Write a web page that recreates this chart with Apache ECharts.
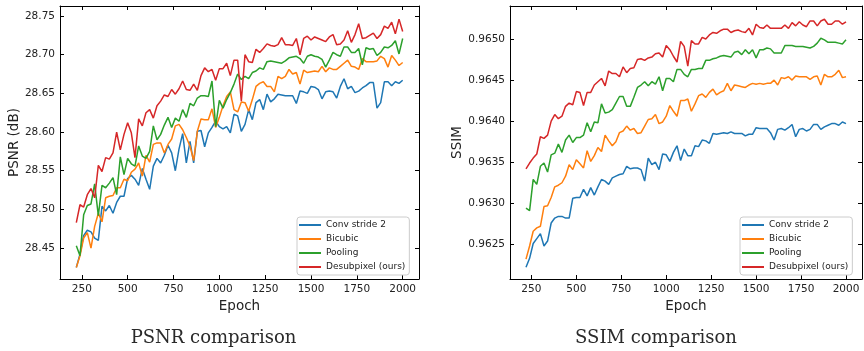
<!DOCTYPE html>
<html>
<head>
<meta charset="utf-8">
<script src="https://cdn.jsdelivr.net/npm/echarts@6/dist/echarts.min.js"></script>
<style>
  html, body { margin: 0; padding: 0; background: #fff; }
  #chart { width: 864px; height: 351px; }
</style>
</head>
<body>
<div id="chart"></div>
<script>
const epochs = [
  220, 240, 260, 280, 300, 320, 340, 360, 380, 400,
  420, 440, 460, 480, 500, 520, 540, 560, 580, 600,
  620, 640, 660, 680, 700, 720, 740, 760, 780, 800,
  820, 840, 860, 880, 900, 920, 940, 960, 980, 1000,
  1020, 1040, 1060, 1080, 1100, 1120, 1140, 1160, 1180, 1200,
  1220, 1240, 1260, 1280, 1300, 1320, 1340, 1360, 1380, 1400,
  1420, 1440, 1460, 1480, 1500, 1520, 1540, 1560, 1580, 1600,
  1620, 1640, 1660, 1680, 1700, 1720, 1740, 1760, 1780, 1800,
  1820, 1840, 1860, 1880, 1900, 1920, 1940, 1960, 1980, 2000
]
const epochTicks = [250, 500, 750, 1000, 1250, 1500, 1750, 2000]
const psnrTicks = [28.45, 28.50, 28.55, 28.60, 28.65, 28.70, 28.75]
const ssimTicks = [0.9625, 0.9630, 0.9635, 0.9640, 0.9645, 0.9650]
const names = ['Conv stride 2', 'Bicubic', 'Pooling', 'Desubpixel (ours)']
const colors = ['#1f77b4', '#ff7f0e', '#2ca02c', '#d62728']

const psnrConv = [
  28.425, 28.442, 28.466, 28.473, 28.471, 28.463, 28.460, 28.504, 28.498, 28.505,
  28.495, 28.509, 28.517, 28.517, 28.540, 28.544, 28.539, 28.531, 28.553, 28.539,
  28.526, 28.556, 28.566, 28.560, 28.570, 28.583, 28.573, 28.550, 28.578, 28.598,
  28.560, 28.588, 28.560, 28.601, 28.602, 28.581, 28.599, 28.606, 28.614, 28.607,
  28.604, 28.607, 28.599, 28.623, 28.621, 28.601, 28.610, 28.629, 28.616, 28.638,
  28.642, 28.629, 28.649, 28.639, 28.643, 28.649, 28.648, 28.647, 28.647, 28.647,
  28.637, 28.653, 28.652, 28.650, 28.659, 28.658, 28.655, 28.643, 28.652, 28.653,
  28.652, 28.644, 28.659, 28.669, 28.656, 28.659, 28.651, 28.653, 28.657, 28.660,
  28.664, 28.664, 28.631, 28.638, 28.665, 28.665, 28.660, 28.665, 28.663, 28.667
]
const psnrBicubic = [
  28.425, 28.440, 28.463, 28.470, 28.450, 28.478, 28.495, 28.484, 28.515, 28.517,
  28.518, 28.528, 28.528, 28.539, 28.537, 28.548, 28.552, 28.560, 28.543, 28.570,
  28.561, 28.584, 28.586, 28.586, 28.573, 28.584, 28.591, 28.608, 28.610, 28.603,
  28.593, 28.582, 28.563, 28.601, 28.617, 28.616, 28.616, 28.630, 28.606, 28.619,
  28.634, 28.646, 28.652, 28.629, 28.626, 28.639, 28.638, 28.627, 28.642, 28.659,
  28.663, 28.665, 28.659, 28.659, 28.652, 28.672, 28.669, 28.672, 28.681, 28.675,
  28.677, 28.662, 28.680, 28.677, 28.678, 28.679, 28.678, 28.685, 28.678, 28.683,
  28.681, 28.681, 28.685, 28.689, 28.693, 28.685, 28.684, 28.681, 28.695, 28.691,
  28.691, 28.691, 28.692, 28.698, 28.695, 28.684, 28.699, 28.693, 28.686, 28.690
]
const psnrPooling = [
  28.453, 28.440, 28.493, 28.505, 28.507, 28.533, 28.492, 28.531, 28.528, 28.534,
  28.541, 28.519, 28.568, 28.545, 28.566, 28.559, 28.556, 28.582, 28.569, 28.566,
  28.575, 28.608, 28.590, 28.597, 28.609, 28.619, 28.606, 28.618, 28.614, 28.629,
  28.619, 28.637, 28.634, 28.644, 28.647, 28.647, 28.646, 28.666, 28.607, 28.641,
  28.631, 28.642, 28.651, 28.662, 28.675, 28.668, 28.672, 28.669, 28.677, 28.679,
  28.683, 28.681, 28.691, 28.692, 28.691, 28.690, 28.689, 28.692, 28.696, 28.697,
  28.698, 28.695, 28.689, 28.698, 28.700, 28.698, 28.697, 28.694, 28.684, 28.693,
  28.703, 28.700, 28.698, 28.710, 28.710, 28.703, 28.703, 28.708, 28.687, 28.709,
  28.707, 28.708, 28.699, 28.703, 28.710, 28.709, 28.712, 28.718, 28.701, 28.721
]
const psnrDesub = [
  28.483, 28.506, 28.503, 28.519, 28.527, 28.515, 28.557, 28.549, 28.567, 28.565,
  28.573, 28.600, 28.577, 28.597, 28.612, 28.599, 28.567, 28.617, 28.608, 28.625,
  28.629, 28.618, 28.634, 28.640, 28.648, 28.646, 28.655, 28.649, 28.656, 28.666,
  28.655, 28.654, 28.662, 28.654, 28.673, 28.683, 28.678, 28.681, 28.667, 28.682,
  28.682, 28.689, 28.673, 28.693, 28.693, 28.640, 28.700, 28.691, 28.690, 28.707,
  28.703, 28.708, 28.714, 28.712, 28.711, 28.713, 28.722, 28.713, 28.713, 28.712,
  28.721, 28.700, 28.721, 28.724, 28.719, 28.723, 28.721, 28.719, 28.717, 28.723,
  28.726, 28.713, 28.714, 28.719, 28.731, 28.716, 28.726, 28.740, 28.721, 28.722,
  28.725, 28.728, 28.721, 28.726, 28.737, 28.734, 28.742, 28.727, 28.746, 28.730
]

const ssimConv = [
  0.96222, 0.96233, 0.96251, 0.96257, 0.96263, 0.96248, 0.96254, 0.96276, 0.96282, 0.96284,
  0.96284, 0.96282, 0.96282, 0.96306, 0.96307, 0.96307, 0.96317, 0.96309, 0.96319, 0.96310,
  0.96320, 0.96329, 0.96327, 0.96323, 0.96331, 0.96333, 0.96335, 0.96336, 0.96345, 0.96342,
  0.96343, 0.96343, 0.96341, 0.96327, 0.96355, 0.96347, 0.96350, 0.96341, 0.96360, 0.96359,
  0.96351, 0.96362, 0.96370, 0.96352, 0.96366, 0.96358, 0.96358, 0.96370, 0.96369, 0.96377,
  0.96376, 0.96373, 0.96385, 0.96384, 0.96385, 0.96386, 0.96385, 0.96387, 0.96385, 0.96385,
  0.96385, 0.96382, 0.96384, 0.96384, 0.96392, 0.96391, 0.96391, 0.96391, 0.96386, 0.96377,
  0.96390, 0.96391, 0.96389, 0.96392, 0.96396, 0.96381, 0.96390, 0.96391, 0.96388, 0.96390,
  0.96396, 0.96396, 0.96390, 0.96393, 0.96395, 0.96397, 0.96397, 0.96395, 0.96399, 0.96397
]
const ssimBicubic = [
  0.96232, 0.96248, 0.96266, 0.96270, 0.96272, 0.96296, 0.96297, 0.96307, 0.96320, 0.96322,
  0.96325, 0.96333, 0.96347, 0.96341, 0.96353, 0.96348, 0.96343, 0.96364, 0.96351, 0.96358,
  0.96368, 0.96363, 0.96383, 0.96376, 0.96370, 0.96375, 0.96386, 0.96388, 0.96394, 0.96389,
  0.96391, 0.96385, 0.96386, 0.96394, 0.96402, 0.96403, 0.96408, 0.96397, 0.96399, 0.96406,
  0.96419, 0.96412, 0.96406, 0.96425, 0.96425, 0.96427, 0.96412, 0.96421, 0.96431, 0.96433,
  0.96429, 0.96435, 0.96439, 0.96432, 0.96435, 0.96437, 0.96446, 0.96437, 0.96444, 0.96443,
  0.96442, 0.96441, 0.96444, 0.96446, 0.96445, 0.96446, 0.96445, 0.96446, 0.96446, 0.96450,
  0.96444, 0.96453, 0.96452, 0.96454, 0.96450, 0.96455, 0.96454, 0.96454, 0.96454, 0.96451,
  0.96454, 0.96455, 0.96444, 0.96457, 0.96454, 0.96454, 0.96457, 0.96462, 0.96453, 0.96454
]
const ssimPooling = [
  0.96294, 0.96291, 0.96329, 0.96323, 0.96345, 0.96349, 0.96338, 0.96359, 0.96361, 0.96372,
  0.96362, 0.96377, 0.96383, 0.96374, 0.96380, 0.96380, 0.96383, 0.96398, 0.96387, 0.96399,
  0.96398, 0.96421, 0.96410, 0.96411, 0.96414, 0.96422, 0.96430, 0.96430, 0.96418, 0.96418,
  0.96429, 0.96441, 0.96444, 0.96448, 0.96443, 0.96448, 0.96445, 0.96454, 0.96437, 0.96452,
  0.96452, 0.96448, 0.96463, 0.96463, 0.96457, 0.96454, 0.96463, 0.96463, 0.96464, 0.96464,
  0.96474, 0.96474, 0.96476, 0.96477, 0.96479, 0.96480, 0.96479, 0.96478, 0.96484, 0.96485,
  0.96481, 0.96487, 0.96482, 0.96487, 0.96477, 0.96487, 0.96487, 0.96489, 0.96488, 0.96483,
  0.96483, 0.96483, 0.96492, 0.96492, 0.96492, 0.96491, 0.96491, 0.96491, 0.96490, 0.96489,
  0.96491, 0.96495, 0.96501, 0.96499, 0.96496, 0.96496, 0.96496, 0.96495, 0.96494, 0.96499
]
const ssimDesub = [
  0.96342, 0.96349, 0.96355, 0.96360, 0.96381, 0.96379, 0.96383, 0.96400, 0.96408, 0.96403,
  0.96406, 0.96418, 0.96422, 0.96420, 0.96436, 0.96435, 0.96419, 0.96435, 0.96435, 0.96444,
  0.96448, 0.96452, 0.96443, 0.96461, 0.96458, 0.96458, 0.96454, 0.96466, 0.96459, 0.96464,
  0.96465, 0.96475, 0.96476, 0.96474, 0.96477, 0.96478, 0.96482, 0.96483, 0.96478, 0.96492,
  0.96487, 0.96479, 0.96472, 0.96497, 0.96491, 0.96467, 0.96498, 0.96494, 0.96494, 0.96502,
  0.96500, 0.96505, 0.96508, 0.96507, 0.96510, 0.96512, 0.96512, 0.96508, 0.96510, 0.96511,
  0.96509, 0.96508, 0.96513, 0.96505, 0.96518, 0.96514, 0.96513, 0.96517, 0.96513, 0.96513,
  0.96513, 0.96513, 0.96517, 0.96513, 0.96520, 0.96516, 0.96521, 0.96517, 0.96515, 0.96522,
  0.96522, 0.96516, 0.96522, 0.96524, 0.96518, 0.96518, 0.96522, 0.96522, 0.96518, 0.96521
]

const psnrSeries = [psnrConv, psnrBicubic, psnrPooling, psnrDesub]
const ssimSeries = [ssimConv, ssimBicubic, ssimPooling, ssimDesub]

const FONT = 'DejaVu Sans'
const labelColor = '#222'

// one x axis (bottom with labels, or top as a plain frame edge)
function xAxisFor(gridIndex, top) {
  return {
    type: 'value', gridIndex, position: top ? 'top' : 'bottom',
    min: 131, max: 2089,
    name: top ? '' : 'Epoch', nameLocation: 'middle', nameGap: 15,
    nameTextStyle: { fontFamily: FONT, fontSize: 13.5, color: labelColor },
    axisLine: { onZero: false, lineStyle: { color: '#000', width: 1 } },
    axisTick: { inside: true, length: 4, customValues: epochTicks, lineStyle: { color: '#000' } },
    axisLabel: {
      show: !top, customValues: epochTicks, margin: 5,
      fontFamily: FONT, fontSize: 10.5, color: labelColor,
      formatter: v => String(v),
    },
    splitLine: { show: false },
  }
}

function yAxisFor(gridIndex, right, range, ticks, digits, name, gap) {
  return {
    type: 'value', gridIndex, position: right ? 'right' : 'left',
    min: range[0], max: range[1],
    name: right ? '' : name, nameLocation: 'middle', nameGap: gap,
    nameTextStyle: { fontFamily: FONT, fontSize: 13.5, color: labelColor },
    axisLine: { onZero: false, lineStyle: { color: '#000', width: 1 } },
    axisTick: { inside: true, length: 4, customValues: ticks, lineStyle: { color: '#000' } },
    axisLabel: {
      show: !right, customValues: ticks, margin: 5,
      fontFamily: FONT, fontSize: 10.5, color: labelColor,
      formatter: v => v.toFixed(digits),
    },
    splitLine: { show: false },
  }
}

function legendFor(left) {
  return {
    data: names, orient: 'vertical', left, top: 217,
    icon: 'rect', itemWidth: 22, itemHeight: 2, itemGap: 2,
    padding: [2, 4, 2, 2],
    backgroundColor: 'rgba(255,255,255,0.8)',
    borderColor: '#cccccc', borderWidth: 1, borderRadius: 3,
    textStyle: { fontFamily: FONT, fontSize: 9, color: labelColor, lineHeight: 12 },
    selectedMode: false,
  }
}

function lineSeries(values, i, axisIndex) {
  return {
    name: names[i], type: 'line',
    xAxisIndex: axisIndex, yAxisIndex: axisIndex,
    data: epochs.map((e, k) => [e, values[k]]),
    showSymbol: false, symbol: 'none',
    lineStyle: { color: colors[i], width: 1.5 },
    itemStyle: { color: colors[i] },
    z: 2 + i,
  }
}

const chart = echarts.init(document.getElementById('chart'), null, { renderer: 'canvas' })
chart.setOption({
  animation: false,
  backgroundColor: '#fff',
  title: [
    { text: 'PSNR comparison', left: 213.5, top: 328, textAlign: 'center', padding: 0,
      textStyle: { fontFamily: 'DejaVu Serif', fontSize: 18, fontWeight: 'normal', color: '#2a2a2a', lineHeight: 20 } },
    { text: 'SSIM comparison', left: 656, top: 328, textAlign: 'center', padding: 0,
      textStyle: { fontFamily: 'DejaVu Serif', fontSize: 18, fontWeight: 'normal', color: '#2a2a2a', lineHeight: 20 } },
  ],
  grid: [
    { left: 60, top: 6, width: 359, height: 273 },
    { left: 510, top: 6, width: 352, height: 273 },
  ],
  legend: [legendFor(297), legendFor(740)],
  xAxis: [xAxisFor(0, false), xAxisFor(1, false), xAxisFor(0, true), xAxisFor(1, true)],
  yAxis: [
    yAxisFor(0, false, [28.41, 28.763], psnrTicks, 2, 'PSNR (dB)', 37),
    yAxisFor(1, false, [0.962078, 0.965402], ssimTicks, 4, 'SSIM', 44),
    yAxisFor(0, true, [28.41, 28.763], psnrTicks, 2, '', 0),
    yAxisFor(1, true, [0.962078, 0.965402], ssimTicks, 4, '', 0),
  ],
  series: [
    ...psnrSeries.map((v, i) => lineSeries(v, i, 0)),
    ...ssimSeries.map((v, i) => lineSeries(v, i, 1)),
  ],
})
</script>
</body>
</html>
